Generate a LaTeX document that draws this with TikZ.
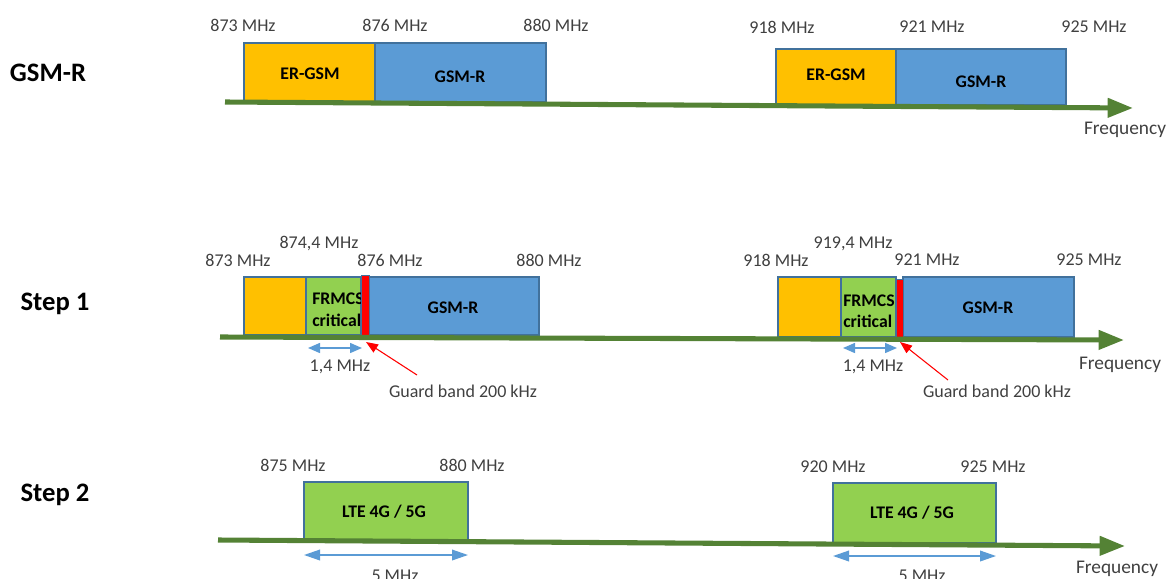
\documentclass[tikz,border=0pt]{standalone}
\usepackage{fontspec}
\setmainfont{Carlito}
\usetikzlibrary{arrows.meta}
\definecolor{bandorange}{HTML}{FFC000}
\definecolor{bandblue}{HTML}{5B9BD5}
\definecolor{bandgreen}{HTML}{92D050}
\definecolor{bandedge}{HTML}{41719C}
\definecolor{axisgreen}{HTML}{548235}
\definecolor{labelgray}{HTML}{404040}
\definecolor{spanblue}{HTML}{5B9BD5}
\tikzset{
  band/.style={draw=bandedge,line width=1.1pt},
  freqaxis/.style={axisgreen,line width=3.8pt,-{Triangle[length=19pt,width=14pt]}},
  freqlabel/.style={text=labelgray,font=\fontsize{13.5}{15}\selectfont,inner sep=0pt},
  axislabel/.style={text=labelgray,font=\fontsize{14.5}{16}\selectfont,inner sep=0pt},
  bandtext/.style={font=\bfseries\fontsize{13.3}{15.5}\selectfont,inner sep=0pt},
  rowtitle/.style={font=\bfseries\fontsize{20}{24}\selectfont,inner sep=0pt},
  span/.style={spanblue,line width=1.1pt,{Triangle[length=9pt,width=7.5pt]}-{Triangle[length=9pt,width=7.5pt]}},
  widespan/.style={spanblue,line width=1.1pt,{Triangle[length=12pt,width=8pt]}-{Triangle[length=12pt,width=8pt]}},
  guard/.style={red,line width=0.8pt,-{Triangle[length=9pt,width=7pt]}},
  guardbar/.style={fill=red,draw=bandedge,line width=0.6pt}
}
\begin{document}
\begin{tikzpicture}[x=0.75pt,y=-0.75pt]
\useasboundingbox (0,0) rectangle (1169,578);
% GSM-R
\node[rowtitle] (titleA) at (48,73) {GSM-R};
\draw[band,fill=bandorange] (244,43) rectangle (375,102);
\draw[band,fill=bandblue] (375,43) rectangle (546,102);
\draw[band,fill=bandorange] (776,49) rectangle (896,105);
\draw[band,fill=bandblue] (896,49) rectangle (1066,105);
\node[bandtext] (ergsmA) at (310,74) {ER-GSM};
\node[bandtext] (gsmrA) at (460,77) {GSM-R};
\node[bandtext] (ergsmB) at (836,75) {ER-GSM};
\node[bandtext] (gsmrB) at (981,82) {GSM-R};
\coordinate (axA0) at (225,102);
\coordinate (axA1) at (1133,108);
\draw[freqaxis] (axA0) -- (axA1);
\node[freqlabel] (fA873) at (243,25) {873 MHz};
\node[freqlabel] (fA876) at (395,25) {876 MHz};
\node[freqlabel] (fA880) at (556,25) {880 MHz};
\node[freqlabel] (fA918) at (782,27) {918 MHz};
\node[freqlabel] (fA921) at (932,27) {921 MHz};
\node[freqlabel] (fA925) at (1094,27) {925 MHz};
\node[axislabel] (freqA) at (1125,129.5) {Frequency};
% Step 1
\node[rowtitle] (titleB) at (55,304) {Step 1};
\draw[band,fill=bandorange] (244,277) rectangle (306,335);
\draw[band,fill=bandgreen] (306,277) rectangle (361,335);
\draw[band,fill=bandblue] (369,277) rectangle (539,335);
\draw[band,fill=bandorange] (778,277) rectangle (841,337);
\draw[band,fill=bandgreen] (841,277) rectangle (896,337);
\draw[band,fill=bandblue] (903,277) rectangle (1074,337);
\node[bandtext,anchor=west] (frmcsA) at (312,299) {FRMCS};
\node[bandtext,anchor=west] (critA) at (312,320) {critical};
\node[bandtext,anchor=west] (frmcsB) at (843,301) {FRMCS};
\node[bandtext,anchor=west] (critB) at (843,321) {critical};
\draw[guardbar] (361,275) rectangle (369,337);
\draw[guardbar] (896,279) rectangle (903,338);
\node[bandtext] (gsmrC) at (453,308) {GSM-R};
\node[bandtext] (gsmrD) at (988,308) {GSM-R};
\coordinate (axB0) at (220,337);
\coordinate (axB1) at (1124,340);
\draw[freqaxis] (axB0) -- (axB1);
\node[freqlabel] (fB873) at (238,260) {873 MHz};
\node[freqlabel] (fB874) at (319,243) {874,4 MHz};
\node[freqlabel] (fB876) at (390,260) {876 MHz};
\node[freqlabel] (fB880) at (549,260) {880 MHz};
\node[freqlabel] (fB918) at (776,260) {918 MHz};
\node[freqlabel] (fB919) at (853,244) {919,4 MHz};
\node[freqlabel] (fB921) at (927,260) {921 MHz};
\node[freqlabel] (fB925) at (1089,260) {925 MHz};
\node[axislabel] (freqB) at (1120,365) {Frequency};
\coordinate (spanA0) at (308,348);
\coordinate (spanA1) at (362,348);
\coordinate (spanB0) at (843,348);
\coordinate (spanB1) at (897,348);
\draw[span] (spanA0) -- (spanA1);
\draw[span] (spanB0) -- (spanB1);
\node[freqlabel] (wA) at (340,367) {1,4 MHz};
\node[freqlabel] (wB) at (873,367) {1,4 MHz};
\node[freqlabel] (guardA) at (463,391) {Guard band 200 kHz};
\node[freqlabel] (guardB) at (997,391) {Guard band 200 kHz};
\coordinate (gtailA) at (417,375);
\coordinate (gtipA) at (366,342);
\coordinate (gtailB) at (948,380);
\coordinate (gtipB) at (900,342);
\draw[guard] (gtailA) -- (gtipA);
\draw[guard] (gtailB) -- (gtipB);
% Step 2
\node[rowtitle] (titleC) at (55,495) {Step 2};
\draw[band,fill=bandgreen] (304,482) rectangle (468,540);
\draw[band,fill=bandgreen] (833,483) rectangle (996,543);
\node[bandtext] (lteA) at (384,511.5) {LTE 4G / 5G};
\node[bandtext] (lteB) at (912,513) {LTE 4G / 5G};
\coordinate (axC0) at (218,540);
\coordinate (axC1) at (1125,546);
\draw[freqaxis] (axC0) -- (axC1);
\node[freqlabel] (fC875) at (293,465.5) {875 MHz};
\node[freqlabel] (fC880) at (472,465.5) {880 MHz};
\node[freqlabel] (fC920) at (833,467) {920 MHz};
\node[freqlabel] (fC925) at (993,467) {925 MHz};
\node[axislabel] (freqC) at (1117,569) {Frequency};
\coordinate (spanC0) at (304,555);
\coordinate (spanC1) at (468,555);
\coordinate (spanD0) at (833,556);
\coordinate (spanD1) at (996,556);
\draw[widespan] (spanC0) -- (spanC1);
\draw[widespan] (spanD0) -- (spanD1);
\node[freqlabel] (wC) at (395,576) {5 MHz};
\node[freqlabel] (wD) at (922,576) {5 MHz};
\end{tikzpicture}
\end{document}
